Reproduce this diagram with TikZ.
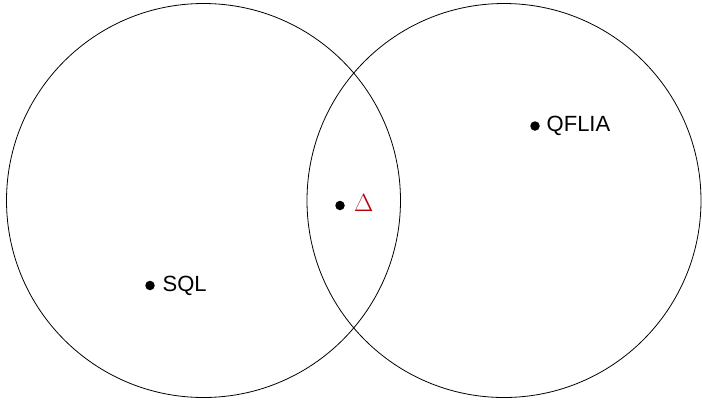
\documentclass[tikz,border=0pt]{standalone}
\usepackage{fontspec}
\setmainfont{Liberation Sans}
\definecolor{deltared}{RGB}{185,0,10}
\tikzset{
  region/.style={circle, draw=black, line width=0.8pt, minimum size=394pt, inner sep=0pt},
  elem/.style={circle, fill=black, minimum size=9.5pt, inner sep=0pt},
  lbl/.style={anchor=west, inner sep=0pt, font=\fontsize{22}{26}\selectfont}
}
\begin{document}
\begin{tikzpicture}[x=1pt,y=-1pt]
  \useasboundingbox (0,0) rectangle (702,400);
  % the two overlapping regions
  \node[region] (left) at (203.5,200.5) {};
  \node[region] (right) at (504,200.5) {};
  % members
  \node[elem] (sqldot) at (150,285.5) {};
  \node[lbl] (sql) at (162.5,285.5) {SQL};
  \node[elem] (qfliadot) at (535,126) {};
  \node[lbl] (qflia) at (546.5,126) {QFLIA};
  \node[elem] (deltadot) at (340,205.5) {};
  \node[lbl, text=deltared, font=\fontsize{23}{27}\selectfont] (delta) at (354,203) {$\Delta$};
\end{tikzpicture}
\end{document}
